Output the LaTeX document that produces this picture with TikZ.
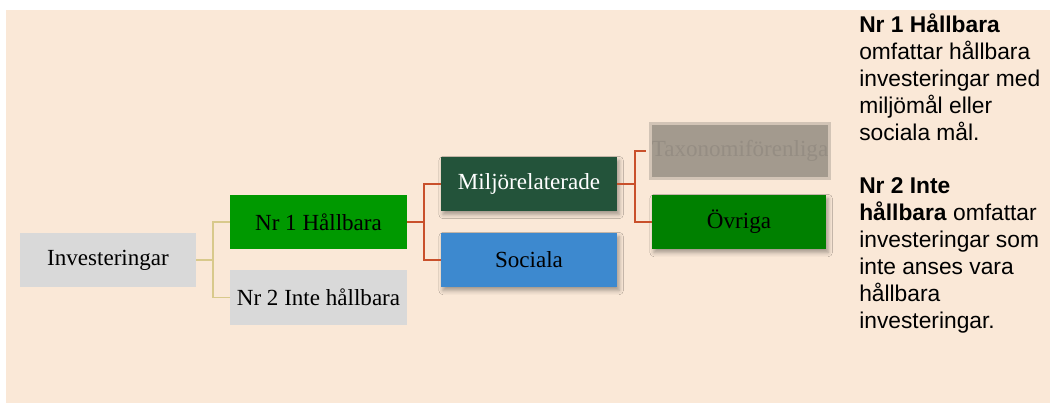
\documentclass[tikz,border=0pt]{standalone}
\usepackage{fontspec}
\setmainfont{Liberation Serif}
\newfontfamily\notefont{Liberation Sans}
\usetikzlibrary{shadows.blur}
\definecolor{peach}{HTML}{FAE8D7}
\definecolor{boxgray}{HTML}{D9D9D9}
\definecolor{leafgreen}{HTML}{009900}
\definecolor{darkgreen}{HTML}{23533A}
\definecolor{socblue}{HTML}{3D89CF}
\definecolor{ovrgreen}{HTML}{008000}
\definecolor{taxogray}{HTML}{A39A8E}
\definecolor{taxotext}{HTML}{958D83}
\definecolor{linetan}{HTML}{D8C98B}
\definecolor{linerust}{HTML}{C9502B}
\begin{document}
\begin{tikzpicture}[x=0.025cm,y=-0.025cm,
        box/.style={minimum width=4.4cm,minimum height=1.35cm,inner sep=0pt,font=\fontsize{16.4}{19}\selectfont},
        soft/.style={blur shadow={shadow xshift=1.5pt,shadow yshift=-2.5pt,shadow blur radius=3pt,shadow opacity=35}},
        twig/.style={draw=linetan,line width=1.4pt},
        branch/.style={draw=linerust,line width=1.4pt},
        note/.style={anchor=north west,align=left,inner sep=0pt,font=\notefont\fontsize{16.2}{19.2}\selectfont}]
        \useasboundingbox (0,0) rectangle (1055,403);
        \fill[peach] (6,10) rectangle (1050,403);

        \node[box,fill=boxgray] (inv) at (108,260) {Investeringar};
        \node[box,fill=leafgreen] (hall) at (318.5,222) {Nr 1 Hållbara};
        \node[box,fill=boxgray] (inte) at (318.5,297.5) {Nr 2 Inte hållbara};
        \node[box,soft,fill=darkgreen,text=white] (milj) at (529,184) {Miljörelaterade};
        \node[box,soft,fill=socblue] (soc) at (529,260) {Sociala};
        \node[box,minimum width=4.35cm,minimum height=1.3cm,fill=taxogray,draw=taxogray,draw opacity=0.45,line width=4pt,text=taxotext] (taxo) at (740,151) {Taxonomiförenliga};
        \node[box,soft,minimum width=4.35cm,fill=ovrgreen] (ovr) at (739,222) {Övriga};

        \coordinate (j1) at (213,260);
        \draw[twig] (inv.east) -- (j1) |- (hall.west);
        \draw[twig] (j1) |- (inte.west);
        \coordinate (j2) at (424,222);
        \draw[branch] (hall.east) -- (j2) |- (milj.west);
        \draw[branch] (j2) |- (soc.west);
        \coordinate (j3) at (635,184);
        \draw[branch] (milj.east) -- (j3) |- ([xshift=-2pt]taxo.west);
        \draw[branch] (j3) |- (ovr.west);

        \node[note] (n1) at (859,13.3) {\textbf{Nr 1 Hållbara}\\omfattar hållbara\\investeringar med\\miljömål eller\\sociala mål.};
        \node[note] (n2) at (859,177.7) {\textbf{Nr 2 Inte}\\\textbf{hållbara} omfattar\\investeringar som\\inte anses vara\\hållbara\\investeringar.};
    \end{tikzpicture}
\end{document}
